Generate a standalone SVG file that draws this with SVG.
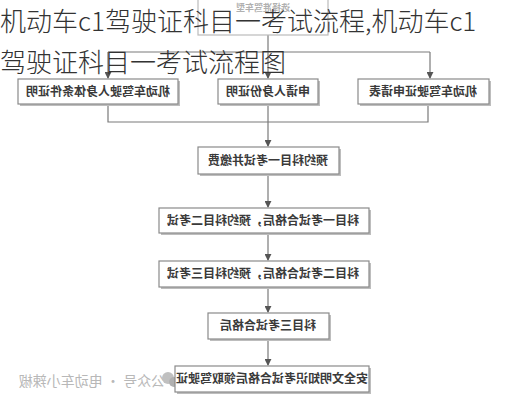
<svg xmlns="http://www.w3.org/2000/svg" width="512" height="400" viewBox="0 0 512 400">
<defs>
<style>
.box{fill:#ffffff;stroke:#8a8a8a;stroke-width:1.2}
.sh{fill:#bdbdbd}
.t{font-family:"Noto Sans CJK SC","Noto Sans",sans-serif;font-size:12px;fill:#3a3a3a;text-anchor:middle;font-weight:bold}
.ln{fill:none;stroke:#7a7a7a;stroke-width:1.2}
.title{font-family:"Noto Sans CJK SC","Noto Sans",sans-serif;font-size:26px;fill:#333333;font-weight:300}
.wm{font-family:"Noto Sans CJK SC","Noto Sans",sans-serif;font-size:14px;fill:#b8b8b8;text-anchor:middle}
</style>
<marker id="ar" viewBox="0 0 8 8" refX="7" refY="4" markerWidth="7" markerHeight="7" orient="auto" markerUnits="userSpaceOnUse">
<path d="M0,0 L8,4 L0,8 z" fill="#555"/>
</marker>
</defs>
<rect width="512" height="400" fill="#ffffff"/>

<g id="watermark">
<g transform="translate(92,386) scale(-1,1)">
<text class="wm" x="0" y="0">公众号 · 电动车小辣椒</text>
</g>
<circle cx="168" cy="378" r="6" fill="#c0c0c0"/>
<circle cx="174" cy="382" r="5" fill="#b0b0b0"/>
</g>

<g id="connectors">
<path class="ln" d="M268,35 V78" marker-end="url(#ar)"/>
<path class="ln" d="M108,52 H430"/>
<path class="ln" d="M108,52 V78" marker-end="url(#ar)"/>
<path class="ln" d="M430,52 V78" marker-end="url(#ar)"/>
<path class="ln" d="M108,104 V122 H428 V104"/>
<path class="ln" d="M268,104 V146" marker-end="url(#ar)"/>
<path class="ln" d="M268,174 V207" marker-end="url(#ar)"/>
<path class="ln" d="M268,233 V260" marker-end="url(#ar)"/>
<path class="ln" d="M268,287 V312" marker-end="url(#ar)"/>
<path class="ln" d="M268,339 V365" marker-end="url(#ar)"/>
</g>

<g id="n0">
<rect class="box" x="198" y="-2" width="130" height="37" style="stroke:#bbb"/>
<g transform="translate(263,11) scale(-1,1)"><text class="t" x="0" y="0" style="fill:#b0b0b0;font-size:9px">选择准驾车型</text></g>
</g>

<g id="n1">
<rect class="sh" x="20" y="81" width="160" height="25"/>
<rect class="box" x="18" y="79" width="160" height="25"/>
<g transform="translate(98,96) scale(-1,1)"><text class="t" x="0" y="0">机动车驾驶人身体条件证明</text></g>
</g>

<g id="n2">
<rect class="sh" x="220" y="81" width="100" height="25"/>
<rect class="box" x="218" y="79" width="100" height="25"/>
<g transform="translate(268,96) scale(-1,1)"><text class="t" x="0" y="0">申请人身份证明</text></g>
</g>

<g id="n3">
<rect class="sh" x="360" y="81" width="131" height="25"/>
<rect class="box" x="358" y="79" width="131" height="25"/>
<g transform="translate(423,96) scale(-1,1)"><text class="t" x="0" y="0">机动车驾驶证申请表</text></g>
</g>

<g id="n4">
<rect class="sh" x="200" y="149" width="141" height="27"/>
<rect class="box" x="198" y="147" width="141" height="27"/>
<g transform="translate(268,165) scale(-1,1)"><text class="t" x="0" y="0">预约科目一考试并缴费</text></g>
</g>

<g id="n5">
<rect class="sh" x="161" y="210" width="210" height="25"/>
<rect class="box" x="159" y="208" width="210" height="25"/>
<g transform="translate(263,225) scale(-1,1)"><text class="t" x="0" y="0">科目一考试合格后，预约科目二考试</text></g>
</g>

<g id="n6">
<rect class="sh" x="161" y="263" width="210" height="26"/>
<rect class="box" x="159" y="261" width="210" height="26"/>
<g transform="translate(263,278) scale(-1,1)"><text class="t" x="0" y="0">科目二考试合格后，预约科目三考试</text></g>
</g>

<g id="n7">
<rect class="sh" x="210" y="315" width="121" height="26"/>
<rect class="box" x="208" y="313" width="121" height="26"/>
<g transform="translate(268,330) scale(-1,1)"><text class="t" x="0" y="0">科目三考试合格后</text></g>
</g>

<g id="n8">
<rect class="sh" x="177" y="368" width="194" height="26"/>
<rect class="box" x="175" y="366" width="194" height="26"/>
<g transform="translate(272,383) scale(-1,1)"><text class="t" x="0" y="0">安全文明知识考试合格后领取驾驶证</text></g>
</g>

<g id="title">
<text class="title" x="0" y="31">机动车c1驾驶证科目一考试流程,机动车c1</text>
<text class="title" x="0" y="72">驾驶证科目一考试流程图</text>
</g>
</svg>
